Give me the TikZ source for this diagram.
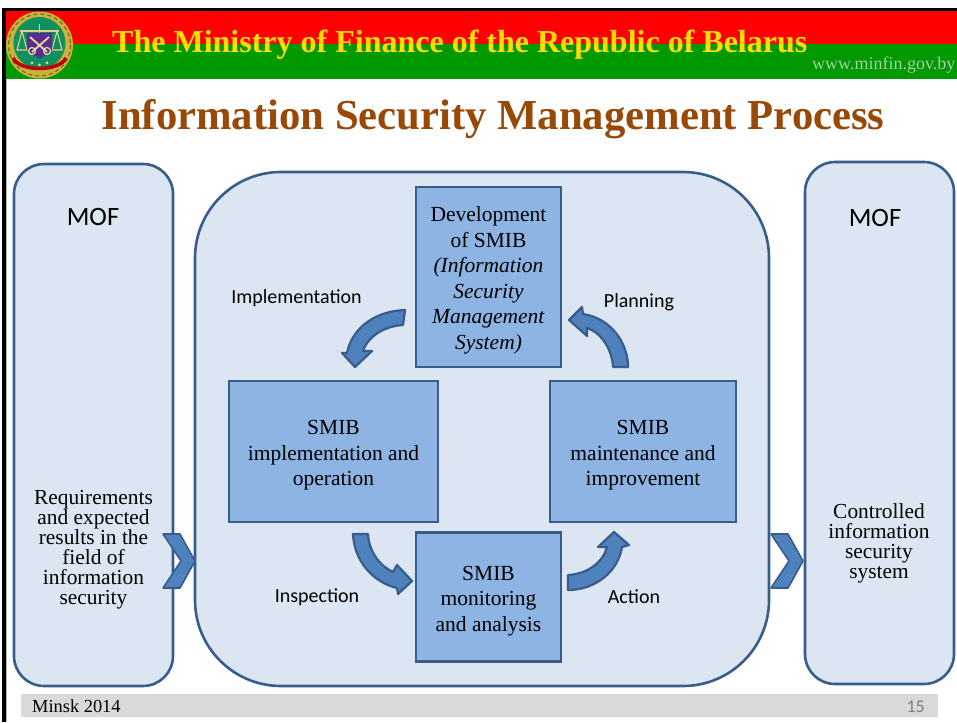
\documentclass[tikz,border=0pt]{standalone}
\usepackage{fontspec}
\setmainfont{Liberation Serif}
\newfontfamily\labelfont{Carlito}
\definecolor{paleblue}{HTML}{DCE6F2}
\definecolor{midblue}{HTML}{8EB4E3}
\definecolor{arrowblue}{HTML}{4F81BD}
\definecolor{edgeblue}{HTML}{385D8A}
\definecolor{flaggreen}{HTML}{009900}
\definecolor{titlebrown}{HTML}{984807}
\definecolor{emblemgold}{HTML}{C9B33C}
\definecolor{emblemgreen}{HTML}{11905F}
\definecolor{emblempurple}{HTML}{5B2C91}
\newcommand{\bodysize}{\fontsize{21.5}{25.5}\selectfont}
\newcommand{\sidesize}{\fontsize{21.4}{20}\selectfont}
\newcommand{\firstline}{\rule{0pt}{22pt}}
\begin{document}
\begin{tikzpicture}[x=1pt,y=-1pt,
			panel/.style = {draw=edgeblue, line width=2.6pt, fill=paleblue, inner sep=0pt},
			procbox/.style = {draw=edgeblue, line width=2.8pt, fill=midblue, inner sep=0pt, align=center, font=\bodysize},
			bendarrow/.style = {draw=edgeblue, line width=2.2pt, fill=arrowblue, line join=round},
			steplabel/.style = {inner sep=0pt, font=\labelfont\fontsize{20}{24}\selectfont},
			mofname/.style = {inner sep=0pt, font=\labelfont\fontsize{26.5}{30}\selectfont},
			sidetext/.style = {inner sep=0pt, align=center, font=\sidesize}]

			\useasboundingbox (0,0) rectangle (957,722);

			% header
			\fill[white] (0,0) rectangle (957,722);
			\fill[red] (5,11) rectangle (957,45);
			\fill[flaggreen] (5,44) rectangle (957,79);
			\fill[black] (2,8) rectangle (957,11);
			\fill[black] (2,8) rectangle (5.5,722);
			\fill[gray!60] (5.5,79) rectangle (7,722);

			% emblem
			\fill[emblemgold] (39.5,45) circle (33.5);
			\draw[emblemgold!60!black, line width=1.2pt, dash pattern=on 4pt off 3pt] (39.5,45) circle (31);
			\fill[emblemgreen] (39.5,43) circle (26);
			\draw[emblemgold!60!white, line width=1.2pt] (20,31) -- (59,31) (39.5,24) -- (39.5,36);
			\draw[emblemgold!60!white, line width=1.1pt] (22,31) -- (17,50) -- (27,50) -- cycle (57,31) -- (52,50) -- (62,50) -- cycle;
			\fill[emblempurple] (27,33) -- (52,33) -- (52,50) -- (39.5,59) -- (27,50) -- cycle;
			\draw[emblemgold!50!white, line width=1.8pt] (30,37) -- (47,52) (49,37) -- (32,52);
			\draw[emblemgold!50!white, line width=1.2pt] (32,51) circle (3.5) (47,51) circle (3.5);
			\fill[emblemgold!50!white] (32,63) circle (1.5) (39.5,65) circle (1.5) (47,63) circle (1.5);
			\draw[red!75!black, line width=3.5pt] (13,58) .. controls (20,72) and (59,72) .. (66,58);

			\node[anchor=base west, inner sep=0pt, text=yellow!90!red, font=\bfseries\fontsize{32}{36}\selectfont] (ministry) at (112,53) {The Ministry of Finance of the Republic of Belarus};
			\node[anchor=base west, inner sep=0pt, text=black!25!flaggreen!35!white, font=\fontsize{18}{20}\selectfont] (website) at (812,70) {www.minfin.gov.by};
			\node[anchor=base, inner sep=0pt, text=titlebrown, font=\bfseries\fontsize{42.7}{46}\selectfont] (heading) at (493,130) {Information Security Management Process};

			% panels
			\node[panel, rounded corners=30pt, minimum width=159pt, minimum height=522pt] (inputpanel) at (93.5,425) {};
			\node[panel, rounded corners=86pt, minimum width=574pt, minimum height=514pt] (cyclepanel) at (482,429) {};
			\node[panel, rounded corners=30pt, minimum width=149pt, minimum height=522pt] (outputpanel) at (879.5,423) {};

			\node[mofname] (inputname) at (93,216.5) {MOF};
			\node[mofname] (outputname) at (875,217.5) {MOF};
			\node[sidetext] (inputtext) at (93.5,550) {Requirements\\and expected\\results in the\\field of\\information\\security};
			\node[sidetext] (outputtext) at (879,543.5) {Controlled\\information\\security\\system};

			% process boxes
			\node[procbox, minimum width=145pt, minimum height=180pt] (development) at (488.5,277) {\firstline Development\\of SMIB\\\textit{(Information}\\\textit{Security}\\\textit{Management}\\\textit{System)}};
			\node[procbox, minimum width=209pt, minimum height=141pt] (operation) at (333.5,451.5) {\firstline SMIB\\implementation and\\operation};
			\node[procbox, minimum width=186pt, minimum height=141pt] (improvement) at (643,451.5) {\firstline SMIB\\maintenance and\\improvement};
			\node[procbox, minimum width=145pt, minimum height=129pt] (monitoring) at (488.5,597) {\firstline SMIB\\monitoring\\and analysis};

			% curved arrows
			\draw[bendarrow] (405,310) .. controls (375,311) and (352,328) .. (347,353) -- (342,353) -- (355,367) -- (372,351) -- (363,351) .. controls (368,336) and (385,326) .. (403,325) -- cycle;
			\draw[bendarrow] (628,367) .. controls (628,342) and (610,318) .. (583,314) -- (582,307) -- (569,320) -- (587,336) -- (587,328) .. controls (600,332) and (612,348) .. (613,367) -- cycle;
			\draw[bendarrow] (353,534) .. controls (354,560) and (372,582) .. (397,588) -- (398,594) -- (412,581) -- (397,565) -- (393,572) .. controls (380,566) and (369,552) .. (368,534) -- cycle;
			\draw[bendarrow] (568,590) .. controls (595,590) and (618,572) .. (622,547) -- (629,545) -- (614,532) -- (598,547) -- (607,547) .. controls (603,562) and (588,574) .. (568,575) -- cycle;

			\node[steplabel] (implementationlabel) at (296.5,298) {Implementation};
			\node[steplabel] (planninglabel) at (639,302) {Planning};
			\node[steplabel] (inspectionlabel) at (317,597) {Inspection};
			\node[steplabel] (actionlabel) at (634,597) {Action};

			% chevrons
			\draw[bendarrow, line width=1.6pt] (163,534) -- (180,534) -- (195,561) -- (180,588) -- (163,588) -- (181,561) -- cycle;
			\draw[bendarrow, line width=1.6pt] (771,534) -- (788,534) -- (803,561) -- (788,588) -- (771,588) -- (789,561) -- cycle;

			% footer
			\fill[black!15] (21,694) rectangle (938,717);
			\node[anchor=base west, inner sep=0pt, font=\fontsize{18.4}{20}\selectfont] (place) at (32,712) {Minsk 2014};
			\node[anchor=base east, inner sep=0pt, text=black!50, font=\labelfont\fontsize{18}{20}\selectfont] (pagenumber) at (925,712) {15};
\end{tikzpicture}
\end{document}
